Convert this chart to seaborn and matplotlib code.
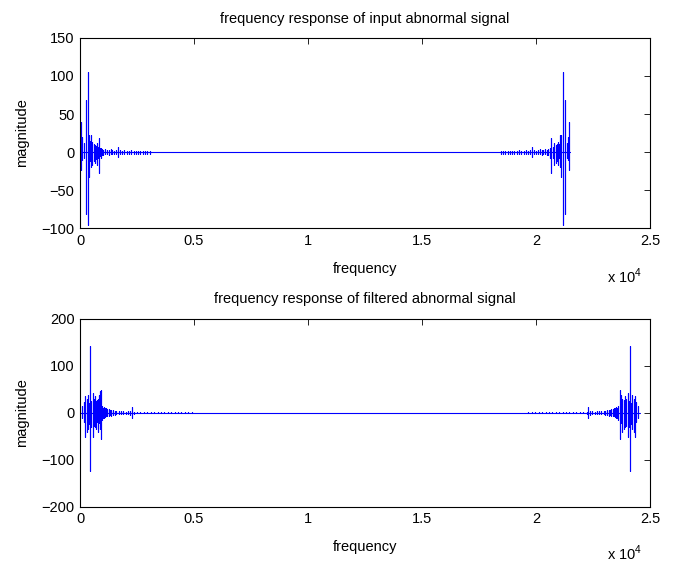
#!/usr/bin/env python3
import matplotlib
matplotlib.use('Agg')
import matplotlib.pyplot as plt
from matplotlib.ticker import FuncFormatter, MultipleLocator
import seaborn as sns
import pandas as pd

# Spectrum length (Hz) of each panel, the right half mirrors the left half
n_input = 21500
n_filtered = 24560

# Left cluster of the input spectrum: frequency, upper and lower excursion
input_freq = [60, 100, 160, 250, 340, 395, 440, 470, 510, 540, 600, 645, 700, 730,
              780, 830, 870, 905, 960, 1020, 1100, 1180, 1260, 1340, 1420, 1500,
              1580, 1670, 1760, 1850, 1950, 2050, 2150, 2250, 2350, 2450, 2550,
              2650, 2750, 2850, 2950, 3050]
input_hi = [39, 20, 12, 68, 105, 23, 15, 22, 10, 13, 10, 9, 8, 12,
            7, 19, 6, 5, 4, 3, 4, 3, 3, 4, 3, 2,
            3, 7, 3, 2, 3, 2, 2, 3, 2, 2, 2,
            2, 2, 2, 2, 2]
input_lo = [-24, -10, -8, -81, -96, -33, -12, -20, -8, -17, -12, -14, -9, -17,
            -8, -27, -5, -8, -4, -4, -3, -3, -4, -3, -3, -3,
            -2, -6, -3, -2, -2, -2, -3, -2, -2, -2, -2,
            -2, -2, -2, -2, -2]

# Left cluster of the filtered spectrum
filt_freq = [100, 180, 235, 290, 350, 400, 440, 500, 555, 600, 650, 700, 730, 780,
             830, 870, 905, 960, 1000, 1050, 1100, 1150, 1200, 1260, 1320, 1380,
             1450, 1530, 1600, 1700, 1800, 1900, 2000, 2100, 2200, 2270, 2350,
             2500, 2650, 2800, 2950, 3100, 3250, 3400, 3550, 3700, 3850, 4000,
             4150, 4300, 4450, 4600, 4750, 4900]
filt_hi = [15, 22, 36, 30, 38, 20, 141, 25, 42, 30, 35, 25, 27, 30,
           38, 47, 49, 14, 10, 12, 9, 10, 8, 8, 6, 6,
           5, 4, 3, 4, 3, 3, 2, 3, 4, 13, 2,
           1.5, 1.5, 1.5, 1.5, 1.5, 1.5, 1.5, 1.5, 1.5, 1.5, 1.5,
           1.5, 1.5, 1.5, 1.5, 1.5, 1.5]
filt_lo = [-12, -20, -51, -40, -34, -25, -124, -30, -52, -28, -30, -35, -19, -40,
           -22, -34, -55, -16, -12, -12, -10, -8, -7, -6, -5, -6,
           -5, -4, -3, -3, -3, -3, -3, -2, -4, -12, -2,
           -1.5, -1.5, -1.5, -1.5, -1.5, -1.5, -1.5, -1.5, -1.5, -1.5, -1.5,
           -1.5, -1.5, -1.5, -1.5, -1.5, -1.5]

x_ticks = [0, 5000, 10000, 15000, 20000, 25000]


def spectrum_frame(n, freq, hi, lo):
    '''
    Build the trace: left cluster, flat middle, mirrored right cluster
    '''
    xs, ys = [0], [0]
    for f, h, l in zip(freq, hi, lo):
        xs += [f, f, f, f]
        ys += [0, h, l, 0]
    for f, h, l in reversed(list(zip(freq, hi, lo))):
        xs += [n - f, n - f, n - f, n - f]
        ys += [0, h, l, 0]
    xs.append(n)
    ys.append(0)
    return pd.DataFrame({'frequency': xs, 'magnitude': ys})


def spectrum_panel(ax, df, title, ylim, ystep):
    sns.lineplot(data=df, x='frequency', y='magnitude', sort=False, estimator=None,
                 color='#0000ff', linewidth=0.8, ax=ax)
    ax.set_xlim(0, 25000)
    ax.set_ylim(*ylim)
    ax.set_xticks(x_ticks)
    ax.xaxis.set_major_formatter(FuncFormatter(lambda v, _: f'{v / 1e4:g}'))
    ax.yaxis.set_major_locator(MultipleLocator(ystep))
    ax.tick_params(direction='in', length=4, top=True, right=True, labelsize=10.5,
                   width=0.6, color='black', labelcolor='black', pad=4)
    for s in ax.spines.values():
        s.set_color('black')
        s.set_linewidth(0.8)
    ax.set_title(title, fontsize=10.5, pad=11, color='black')
    ax.set_xlabel('frequency', fontsize=10.5, labelpad=10, color='black')
    ax.set_ylabel('magnitude', fontsize=10.5, labelpad=9, color='black')
    ax.text(0.925, -0.25, r'x 10$^4$', transform=ax.transAxes, fontsize=10.5,
            ha='left', va='center', color='black')


sns.set_theme(style='white')
plt.rcParams['font.family'] = ['Liberation Sans', 'DejaVu Sans']
plt.rcParams['mathtext.fontset'] = 'custom'
plt.rcParams['mathtext.rm'] = 'Liberation Sans'

fig = plt.figure(figsize=(6.78, 5.65), dpi=100)
ax1 = fig.add_axes([0.118, 0.596, 0.841, 0.337])
ax2 = fig.add_axes([0.118, 0.103, 0.841, 0.333])

spectrum_panel(ax1, spectrum_frame(n_input, input_freq, input_hi, input_lo),
               'frequency response of input abnormal signal', (-100, 150), 50)
spectrum_panel(ax2, spectrum_frame(n_filtered, filt_freq, filt_hi, filt_lo),
               'frequency response of filtered abnormal signal', (-200, 200), 100)

fig.savefig('out.png', dpi=100)
